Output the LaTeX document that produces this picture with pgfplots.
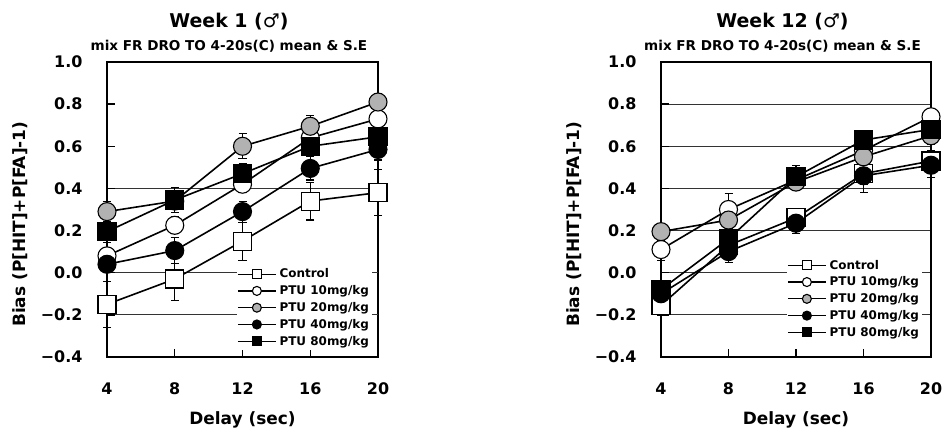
\documentclass[border=0pt]{standalone}
\usepackage{fontspec}
\setmainfont{DejaVu Sans}
\usepackage{pgfplots}
\pgfplotsset{compat=1.18}
\usepackage{pgfplotstable}

% delay, then mean and S.E for each group
\pgfplotstableread{
x  ctl    ctle  p10   p10e  p20   p20e  p40   p40e  p80   p80e
4  -0.15  0.11  0.08  0.04  0.29  0.05  0.04  0.04  0.195 0.05
8  -0.03  0.10  0.225 0.04  0.34  0.04  0.105 0.06  0.345 0.06
12 0.15   0.09  0.42  0.04  0.60  0.06  0.29  0.05  0.47  0.05
16 0.34   0.09  0.64  0.04  0.695 0.05  0.495 0.055 0.60  0.05
20 0.38   0.11  0.73  0.04  0.81  0.04  0.585 0.05  0.645 0.05
}\weekone

\pgfplotstableread{
x  ctl    ctle  p10   p10e  p20   p20e  p40   p40e  p80   p80e
4  -0.155 0.05  0.11  0.05  0.195 0.04  -0.10 0.05  -0.08 0.04
8  0.13   0.05  0.30  0.075 0.25  0.04  0.10  0.05  0.16  0.04
12 0.26   0.04  0.44  0.04  0.43  0.04  0.235 0.05  0.455 0.055
16 0.47   0.05  0.58  0.04  0.55  0.04  0.46  0.08  0.63  0.04
20 0.53   0.05  0.74  0.04  0.65  0.04  0.51  0.06  0.68  0.04
}\weektwelve

\pgfplotsset{
  every axis title shift=0pt,
  biasax/.style={
    width=271bp, height=295bp, scale only axis, clip=false,
    xmin=4, xmax=20, ymin=-0.4, ymax=1.0,
    xtick={4,8,12,16,20}, xticklabels={4,8,12,16,20},
    ytick={-0.4,-0.2,0,0.2,0.4,0.6,0.8,1.0},
    yticklabels={−0.4,−0.2,0.0,0.2,0.4,0.6,0.8,1.0},
    tick align=inside, tick pos=left, major tick length=8bp,
    tick style={black, line width=1.3bp},
    axis line style={line width=1.6bp},
    ticklabel style={font=\bfseries\fontsize{16}{16}\selectfont},
    xticklabel style={yshift=-22bp},
    yticklabel style={xshift=-21bp},
    xlabel={Delay (sec)},
    ylabel={Bias (P[HIT]+P[FA]-1)},
    label style={font=\bfseries\fontsize{17}{17}\selectfont},
    xlabel style={at={(axis description cs:0.5,-0.214)}, anchor=center},
    ylabel style={at={(axis description cs:-0.321,0.45)}, anchor=center},
    title style={font=\bfseries\fontsize{19}{19}\selectfont,
      at={(axis description cs:0.45,1.136)}, anchor=center},
    extra description/.code={
      \node[font=\bfseries\fontsize{13.6}{13.6}\selectfont] at (0.45,1.054)
        {mix FR DRO TO 4-20s(C) mean \& S.E};
    },
    grid style={black!80, line width=0.8bp},
    legend style={draw=none, fill=white, inner sep=0pt,
      font=\bfseries\fontsize{12}{12}\selectfont,
      nodes={inner sep=3.1bp}},
    legend cell align=left,
    legend image code/.code={
      \draw[mark repeat=2, mark phase=2, ##1, mark size=4.5bp, line width=1.2bp]
        plot coordinates {(0bp,0bp) (19bp,0bp) (38bp,0bp)};
    },
  },
  grp/.style={black, line width=1.6bp, mark size=9bp,
    error bars/y dir=both, error bars/y explicit,
    error bars/error bar style={line width=1.1bp},
    error bars/error mark options={rotate=90, mark size=4bp, line width=1.1bp}},
  ctl/.style={grp, mark=square*, mark options={fill=white, line width=1.1bp}},
  p10/.style={grp, mark=*, mark options={fill=white, line width=1.1bp}},
  p20/.style={grp, mark=*, mark options={fill=black!30, line width=1.1bp}},
  p40/.style={grp, mark=*, mark options={fill=black, line width=1.1bp}},
  p80/.style={grp, mark=square*, mark options={fill=black, line width=1.1bp}},
}

\begin{document}
\begin{tikzpicture}
\useasboundingbox (0,0) rectangle (948bp,435bp);

\begin{axis}[biasax, at={(107bp,78bp)}, anchor=south west,
  title={Week 1 (♂)},
  extra y ticks={-0.2,0,0.4}, extra y tick labels={},
  extra y tick style={grid=major},
  legend style={at={(0.48,0.31)}, anchor=north west}]
\addplot[ctl] table[x=x, y=ctl, y error=ctle] {\weekone};
\addplot[p10] table[x=x, y=p10, y error=p10e] {\weekone};
\addplot[p20] table[x=x, y=p20, y error=p20e] {\weekone};
\addplot[p40] table[x=x, y=p40, y error=p40e] {\weekone};
\addplot[p80] table[x=x, y=p80, y error=p80e] {\weekone};
\legend{Control, PTU 10mg/kg, PTU 20mg/kg, PTU 40mg/kg, PTU 80mg/kg}
\end{axis}

\begin{axis}[biasax, at={(661bp,78bp)}, anchor=south west, width=270bp,
  title={Week 12 (♂)},
  ymajorgrids=true,
  legend style={at={(0.467,0.34)}, anchor=north west}]
\addplot[ctl] table[x=x, y=ctl, y error=ctle] {\weektwelve};
\addplot[p10] table[x=x, y=p10, y error=p10e] {\weektwelve};
\addplot[p20] table[x=x, y=p20, y error=p20e] {\weektwelve};
\addplot[p40] table[x=x, y=p40, y error=p40e] {\weektwelve};
\addplot[p80] table[x=x, y=p80, y error=p80e] {\weektwelve};
\legend{Control, PTU 10mg/kg, PTU 20mg/kg, PTU 40mg/kg, PTU 80mg/kg}
\end{axis}
\end{tikzpicture}
\end{document}
